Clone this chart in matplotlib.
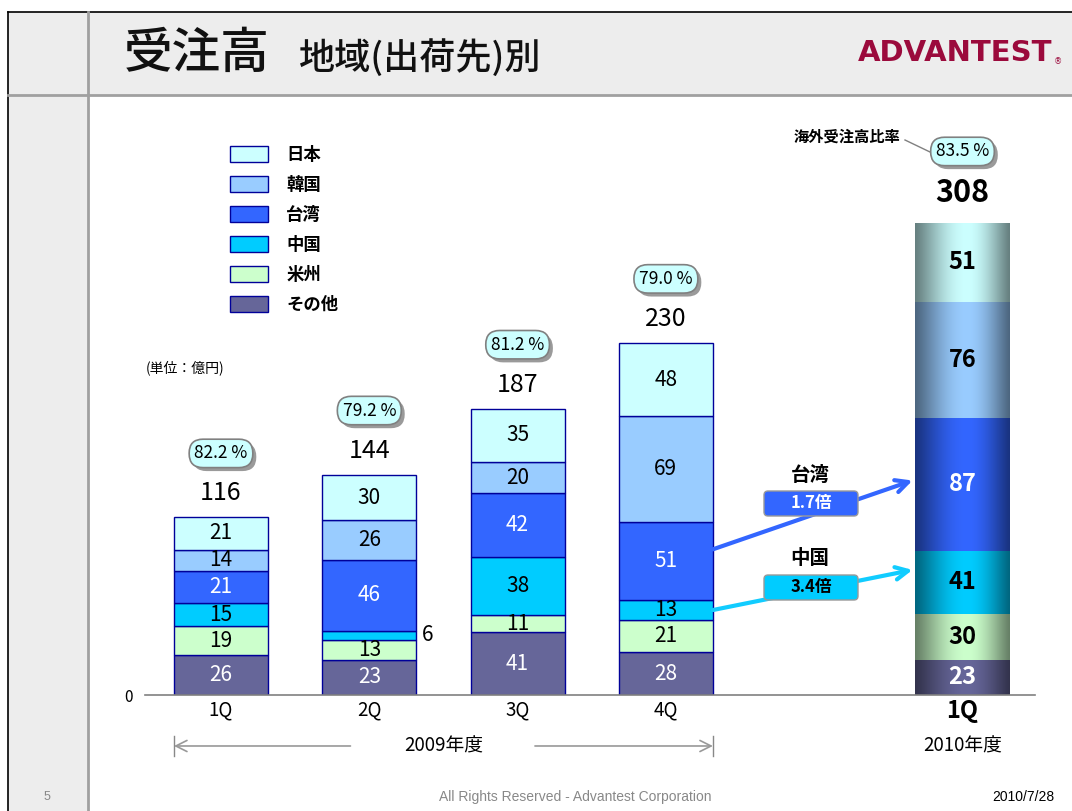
import numpy as np
import matplotlib
matplotlib.use("Agg")
import matplotlib.pyplot as plt
from matplotlib.patches import Rectangle, FancyBboxPatch
from matplotlib.lines import Line2D
import matplotlib.colors as mcolors
import matplotlib.patheffects as pe

plt.rcParams['font.family'] = ['Noto Sans CJK JP', 'DejaVu Sans']

# ---------------- data ----------------
quarters = ["1Q", "2Q", "3Q", "4Q", "1Q"]
positions = [0, 1, 2, 3, 5]
regions = ["日本", "韓国", "台湾", "中国", "米州", "その他"]
japan = [21, 30, 35, 48, 51]
korea = [14, 26, 20, 69, 76]
taiwan = [21, 46, 42, 51, 87]
china = [15, 6, 38, 13, 41]
americas = [19, 13, 11, 21, 30]
other = [26, 23, 41, 28, 23]
totals = [116, 144, 187, 230, 308]
overseas_ratio = ["82.2 %", "79.2 %", "81.2 %", "79.0 %", "83.5 %"]
growth_taiwan = "1.7倍"
growth_china = "3.4倍"

# stacking order bottom -> top
stack = [("その他", other, "#666699", "white"),
         ("米州", americas, "#CCFFCC", "black"),
         ("中国", china, "#00CCFF", "black"),
         ("台湾", taiwan, "#3366FF", "white"),
         ("韓国", korea, "#99CCFF", "black"),
         ("日本", japan, "#CCFFFF", "black")]

W, H = 1072, 811
fig = plt.figure(figsize=(W / 100, H / 100), dpi=100)

# ---------------- page decoration ----------------
page = fig.add_axes([0, 0, 1, 1])
page.set_xlim(0, W)
page.set_ylim(H, 0)
page.axis("off")
page.add_patch(Rectangle((8, 12), W - 8, H, fc="#EDEDED", ec="none", zorder=0))
page.add_patch(Rectangle((89, 96), W - 89, H - 96, fc="white", ec="none", zorder=0))
page.add_line(Line2D([8, W], [12, 12], color="black", lw=1.2))
page.add_line(Line2D([8, 8], [12, H], color="black", lw=1.2))
page.add_line(Line2D([88, 88], [12, H], color="#A0A0A0", lw=2))
page.add_line(Line2D([8, W], [95, 95], color="#A0A0A0", lw=2))

page.text(124, 54, "受注高", fontsize=35, fontweight="medium", va="center", ha="left",
          color="#111111")
page.text(299, 58, "地域(出荷先)別", fontsize=26, fontweight="medium", va="center",
          ha="left", color="#111111")
page.text(1052, 53, "ADVANTEST", fontsize=21, fontweight="heavy",
          family="DejaVu Sans", color="#9B0A3C", va="center", ha="right")
page.text(1054, 62, "®", fontsize=6, color="#9B0A3C", va="center", ha="left",
          family="DejaVu Sans")

page.text(146, 368, "(単位：億円)", fontsize=10, va="center", ha="left")
page.text(47, 797, "5", fontsize=9, color="#888888", va="center", ha="center",
          family="Liberation Sans")
page.text(575, 797, "All Rights Reserved - Advantest Corporation", fontsize=10,
          color="#888888", va="center", ha="center", family="Liberation Sans")
page.text(1023, 797, "2010/7/28", fontsize=10, color="black", va="center",
          ha="center", family="Liberation Sans")

# ---------------- chart axes ----------------
px_per_unit = 1.531
x_left_px, x_right_px, base_px, top_px = 145, 1035, 695, 100
pitch = 148.3
ax = fig.add_axes([x_left_px / W, 1 - base_px / H,
                   (x_right_px - x_left_px) / W, (base_px - top_px) / H])
ax.patch.set_alpha(0)
ax.set_xlim((x_left_px - 221) / pitch, (x_right_px - 221) / pitch)
ax.set_ylim(0, (base_px - top_px) / px_per_unit)
for s in ["top", "right", "left"]:
    ax.spines[s].set_visible(False)
ax.spines["bottom"].set_color("#808080")
ax.spines["bottom"].set_linewidth(1.2)
ax.set_yticks([0])
ax.set_yticklabels(["0"], fontsize=11)
ax.tick_params(axis="y", length=0, pad=9)
ax.set_xticks(positions)
ax.set_xticklabels(quarters, fontsize=13.5)
ax.tick_params(axis="x", length=0, pad=3)
last = ax.get_xticklabels()[-1]
last.set_fontsize(17)
last.set_fontweight("bold")

bw = 0.634
n_hist = 4
bottoms = np.zeros(len(positions))
handles = {}
seg_info = {}
for name, vals, col, tcol in stack:
    vals = np.array(vals, dtype=float)
    bars = ax.bar(positions[:n_hist], vals[:n_hist], bw, bottom=bottoms[:n_hist],
                  color=col, edgecolor="#000099", linewidth=1.0, zorder=2)
    handles[name] = bars
    # latest quarter: gradient shaded bar
    b2 = ax.bar(positions[n_hist:], vals[n_hist:], bw, bottom=bottoms[n_hist:],
                color=col, edgecolor="none", zorder=2)
    base_rgb = np.array(mcolors.to_rgb(col))
    t = np.linspace(0, 1, 200)
    d = np.where(t < 0.55, (0.55 - t) / 0.55, (t - 0.55) / 0.45)
    f = 0.5 + 0.5 * np.cos(np.pi / 2 * d) ** 1.2
    img = (base_rgb[None, None, :] * f[None, :, None])
    for p in b2.patches:
        x0, y0 = p.get_x(), p.get_y()
        im = ax.imshow(img, extent=[x0, x0 + p.get_width(), y0, y0 + p.get_height()],
                       aspect="auto", zorder=2.5, interpolation="bilinear")
        im.set_clip_path(p)
    seg_info[name] = (bottoms.copy(), vals.copy())
    for i, (xp, v, b) in enumerate(zip(positions, vals, bottoms)):
        if i < n_hist:
            if v < 8:
                ax.text(xp + bw / 2 + 0.04, b + v / 2, f"{int(v)}", ha="left",
                        va="center", fontsize=15, color="black", zorder=4)
            else:
                ax.text(xp, b + v / 2, f"{int(v)}", ha="center", va="center",
                        fontsize=15, color=tcol, zorder=4)
        else:
            ax.text(xp, b + v / 2, f"{int(v)}", ha="center", va="center",
                    fontsize=17, fontweight="bold", color=tcol, zorder=4)
    bottoms = bottoms + vals

# totals & ratios
for i, (xp, tot, r) in enumerate(zip(positions, totals, overseas_ratio)):
    latest = i >= n_hist
    ax.annotate(f"{tot}", (xp, tot), xytext=(0, 30 if latest else 24),
                textcoords="offset pixels", ha="center", va="center",
                fontsize=22 if latest else 18, fontweight="bold" if latest else "normal",
                zorder=5, annotation_clip=False)
    off = 72 if latest else 64
    t_r = ax.annotate(r, (xp, tot), xytext=(0, off), textcoords="offset pixels",
                      ha="center", va="center", fontsize=12.5, color="black",
                      bbox=dict(boxstyle="round,pad=0.3,rounding_size=0.8",
                                fc="#CCFFFF", ec="#808080", lw=1.2),
                      zorder=6, annotation_clip=False)
    t_r.get_bbox_patch().set_path_effects(
        [pe.SimplePatchShadow(offset=(2.5, -2.5), shadow_rgbFace="#9A9A9A", alpha=1.0),
         pe.Normal()])

# overseas ratio caption
page.text(900, 137, "海外受注高比率", fontsize=11, fontweight="bold", ha="right",
          va="center")
page.add_line(Line2D([905, 930], [140, 152], color="#808080", lw=1))

# growth arrows
def seg_y(name, idx, frac):
    b, v = seg_info[name]
    return b[idx] + frac * v[idx]

for name, col, sf, ef in [("台湾", "#3366FF", 0.65, 0.53), ("中国", "#11CCFF", 0.5, 0.7)]:
    ax.annotate("", xy=(positions[4] - bw / 2 - 0.02, seg_y(name, 4, ef)),
                xytext=(positions[3] + bw / 2, seg_y(name, 3, sf)),
                arrowprops=dict(arrowstyle="->,head_length=0.9,head_width=0.45",
                                color=col, lw=3, shrinkA=0, shrinkB=0),
                zorder=6, annotation_clip=False)

# overlay for the growth labels (drawn above arrows)
over = fig.add_axes([0, 0, 1, 1])
over.set_xlim(0, W)
over.set_ylim(H, 0)
over.axis("off")
over.patch.set_alpha(0)
over.text(810, 475, "台湾", fontsize=14, fontweight="bold", ha="center", va="center")
over.add_patch(FancyBboxPatch((764, 491), 94, 25, boxstyle="round,pad=0,rounding_size=4",
                              fc="#3366FF", ec="#999999", lw=1, zorder=7))
over.text(811, 503, growth_taiwan, fontsize=12, fontweight="bold", color="white",
          ha="center", va="center", zorder=8)
over.text(810, 558, "中国", fontsize=14, fontweight="bold", ha="center", va="center")
over.add_patch(FancyBboxPatch((764, 575), 94, 25, boxstyle="round,pad=0,rounding_size=4",
                              fc="#00CCFF", ec="#999999", lw=1, zorder=7))
over.text(811, 587, growth_china, fontsize=12, fontweight="bold", color="black",
          ha="center", va="center", zorder=8)

# fiscal year spans
xt = ax.get_xaxis_transform()
yy = -0.0857
x0 = positions[0] - bw / 2
x1 = positions[3] + bw / 2
xm = (x0 + x1) / 2
ax.text(xm, yy, "2009年度", transform=xt, ha="center", va="center", fontsize=13.5)
ax.annotate("", xy=(x0, yy), xytext=(x0 + 1.19, yy), xycoords=xt, textcoords=xt,
            arrowprops=dict(arrowstyle="->,head_length=0.8,head_width=0.4",
                            color="#999999", lw=1.2, shrinkA=0, shrinkB=0),
            annotation_clip=False)
ax.annotate("", xy=(x1, yy), xytext=(x1 - 1.2, yy), xycoords=xt, textcoords=xt,
            arrowprops=dict(arrowstyle="->,head_length=0.8,head_width=0.4",
                            color="#999999", lw=1.2, shrinkA=0, shrinkB=0),
            annotation_clip=False)
for xv in (x0, x1):
    ax.plot([xv, xv], [yy - 0.017, yy + 0.017], transform=xt, color="#888888",
            lw=1, clip_on=False)
ax.text(positions[4], yy, "2010年度", transform=xt, ha="center", va="center",
        fontsize=13.5)

# legend
order = ["日本", "韓国", "台湾", "中国", "米州", "その他"]
fig.legend([handles[n].patches[0] for n in order], order, loc="upper left",
           bbox_to_anchor=(230 / W, 1 - 146 / H), frameon=False,
           handlelength=2.2, handleheight=1.05, labelspacing=0.69,
           handletextpad=1.05, borderpad=0, borderaxespad=0,
           prop=dict(weight="bold", size=12.5))

fig.savefig("out.png", dpi=100)
